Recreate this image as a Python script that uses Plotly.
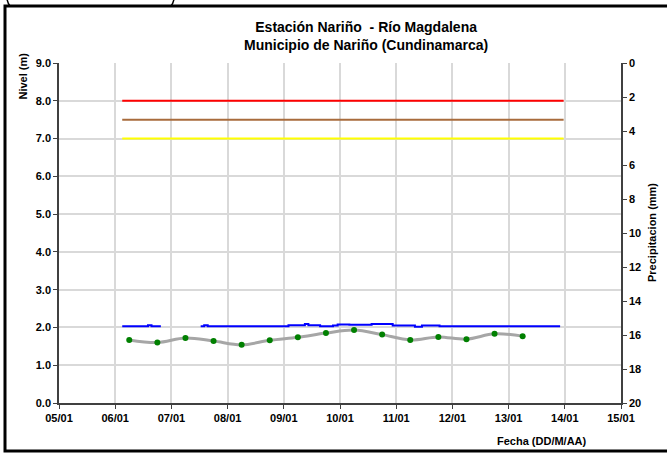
import plotly.graph_objects as go

# ---------------- data ----------------
day_ticks = ["2013-01-05", "2013-01-06", "2013-01-07", "2013-01-08", "2013-01-09", "2013-01-10",
             "2013-01-11", "2013-01-12", "2013-01-13", "2013-01-14", "2013-01-15"]

# water level (m) – hourly record, read as step changes; None = gap
level_times = ["2013-01-06 03:00", "2013-01-06 14:00", "2013-01-06 15:30", "2013-01-06 19:30", None,
               "2013-01-07 12:30", "2013-01-07 14:00", "2013-01-07 15:30", "2013-01-09 02:00",
               "2013-01-09 09:00", "2013-01-09 10:30", "2013-01-09 15:30", "2013-01-09 21:00",
               "2013-01-09 23:00", "2013-01-10 04:00", "2013-01-10 13:30", "2013-01-10 22:30",
               "2013-01-11 08:00", "2013-01-11 11:00", "2013-01-11 18:30", "2013-01-13 22:00"]
level_values = [2.03, 2.06, 2.03, 2.03, None,
                2.03, 2.06, 2.03, 2.06,
                2.09, 2.06, 2.03, 2.05,
                2.08, 2.07, 2.09, 2.05,
                2.02, 2.05, 2.03, 2.03]

# manual readings (m)
reading_times = ["2013-01-06 06:00", "2013-01-06 18:00", "2013-01-07 06:00", "2013-01-07 18:00",
                 "2013-01-08 06:00", "2013-01-08 18:00", "2013-01-09 06:00", "2013-01-09 18:00",
                 "2013-01-10 06:00", "2013-01-10 18:00", "2013-01-11 06:00", "2013-01-11 18:00",
                 "2013-01-12 06:00", "2013-01-12 18:00", "2013-01-13 06:00"]
reading_values = [1.67, 1.60, 1.72, 1.64, 1.54, 1.66, 1.74, 1.85, 1.93, 1.81, 1.67, 1.75,
                  1.69, 1.83, 1.77]

# alert thresholds (m)
alert_start = "2013-01-06 03:00"
alert_end = "2013-01-13 23:30"
alert_red = 8.0
alert_orange = 7.5
alert_yellow = 7.0

# precipitation (mm) – none recorded in the period
precip_times = []
precip_values = []

# ---------------- figure ----------------
W, H = 667, 457
ML, MR, MT, MB = 59, 46, 63, 54
PW, PH = W - ML - MR, H - MT - MB


def px(xp):  # page pixel -> paper x
    return (xp - ML) / PW


def py(yp):  # page pixel -> paper y
    return (H - MB - yp) / PH


FONT = "Liberation Sans, Arial, sans-serif"
fig = go.Figure()

for val, col in [(alert_red, "#FF0000"), (alert_orange, "#A86B3C"), (alert_yellow, "#FFFF00")]:
    fig.add_trace(go.Scatter(x=[alert_start, alert_end], y=[val, val], mode="lines",
                             line=dict(color=col, width=2), showlegend=False, hoverinfo="skip"))

fig.add_trace(go.Scatter(x=level_times, y=level_values, mode="lines",
                         line=dict(color="#0000FF", width=2, shape="hv"),
                         connectgaps=False, showlegend=False))

fig.add_trace(go.Scatter(x=reading_times, y=reading_values, mode="lines+markers",
                         line=dict(color="#A6A6A6", width=3, shape="spline", smoothing=1),
                         marker=dict(color="#008000", size=6), showlegend=False))

fig.add_trace(go.Bar(x=precip_times, y=precip_values, yaxis="y2", marker_color="#00B0F0",
                     showlegend=False))

axis_font = dict(family=FONT, size=11, color="#000000", weight="bold")

fig.update_layout(
    width=W, height=H,
    margin=dict(l=ML, r=MR, t=MT, b=MB),
    paper_bgcolor="white", plot_bgcolor="white",
    font=dict(family=FONT),
    showlegend=False,
    xaxis=dict(type="date", range=[day_ticks[0], day_ticks[-1]], tickvals=day_ticks,
               tickformat="%d/%m", showgrid=True, gridcolor="#D9D9D9", gridwidth=1.5,
               showline=True, linecolor="#404040", linewidth=1.5, ticks="outside",
               ticklen=4, tickcolor="#404040", tickfont=axis_font, zeroline=False),
    yaxis=dict(range=[0, 9], dtick=1, tickformat=".1f", showgrid=True, gridcolor="#D9D9D9",
               gridwidth=1.5, showline=True, linecolor="#404040", linewidth=1.5,
               ticks="outside", ticklen=4, tickcolor="#404040", tickfont=axis_font,
               zeroline=False),
    yaxis2=dict(overlaying="y", side="right", range=[20, 0], dtick=2, showgrid=False,
                showline=True, linecolor="#404040", linewidth=1.5, ticks="outside",
                ticklen=4, tickcolor="#404040", tickfont=axis_font, zeroline=False),
)

fig.add_annotation(text="Estación Nariño\u00a0 - Río Magdalena<br>Municipio de Nariño (Cundinamarca)",
                   xref="paper", yref="paper", x=px(366), y=py(36), showarrow=False,
                   xanchor="center", yanchor="middle",
                   font=dict(family=FONT, size=14, color="#000000", weight="bold"))
fig.add_annotation(text="Nivel (m)", textangle=-90, xref="paper", yref="paper",
                   x=px(22.5), y=py(76), showarrow=False, xanchor="center", yanchor="middle",
                   font=dict(family=FONT, size=11, color="#000000", weight="bold"))
fig.add_annotation(text="Precipitacion (mm)", textangle=-90, xref="paper", yref="paper",
                   x=px(652), y=py(233), showarrow=False, xanchor="center", yanchor="middle",
                   font=dict(family=FONT, size=11, color="#000000", weight="bold"))
fig.add_annotation(text="Fecha (DD/M/AA)", xref="paper", yref="paper",
                   x=px(542), y=py(441), showarrow=False, xanchor="center", yanchor="middle",
                   font=dict(family=FONT, size=11, color="#000000", weight="bold"))

# chart border
fig.add_shape(type="rect", xref="paper", yref="paper", x0=px(5), x1=px(672), y0=py(451),
              y1=py(6), line=dict(color="#000000", width=3), layer="above")
# corners of the box above (cut off at top)
fig.add_shape(type="path", xref="paper", yref="paper",
              path=f"M {px(7)},{py(-1)} Q {px(8)},{py(4)} {px(10)},{py(6)}",
              line=dict(color="#000000", width=1.5))
fig.add_shape(type="path", xref="paper", yref="paper",
              path=f"M {px(174)},{py(-1)} Q {px(173)},{py(4)} {px(171)},{py(6)}",
              line=dict(color="#000000", width=1.5))

fig.write_html("out.html", config={"displayModeBar": False},
               post_script="document.body.style.margin='0';")
